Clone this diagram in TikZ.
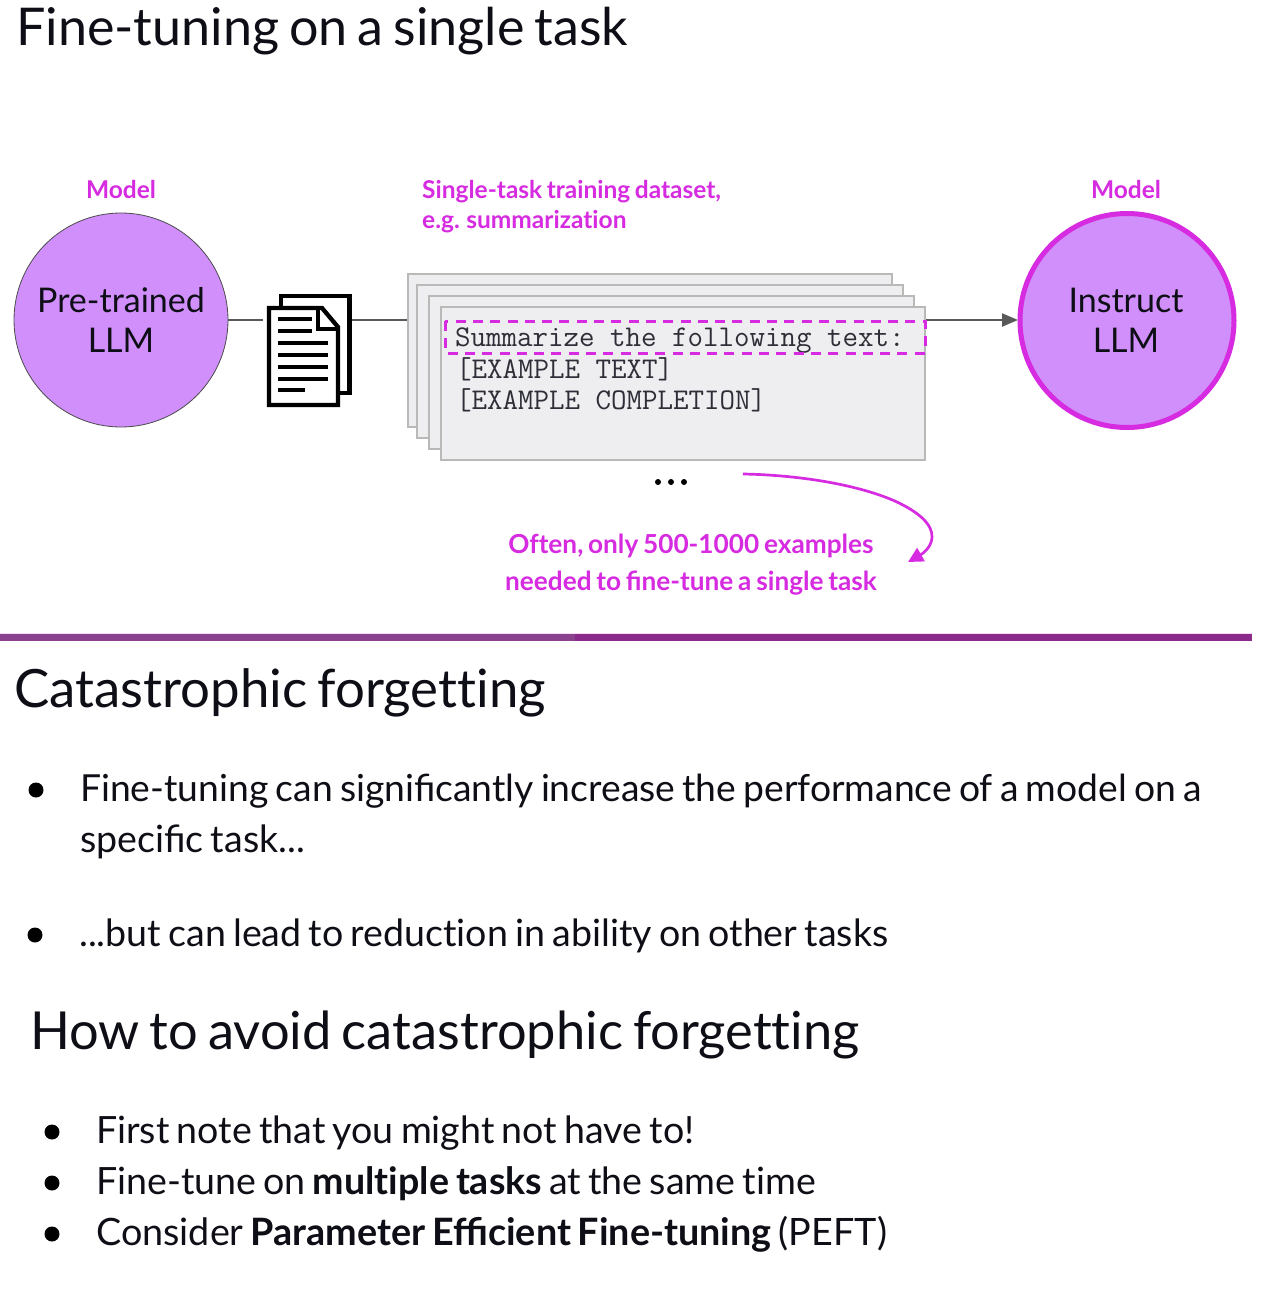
\documentclass[tikz,border=0pt]{standalone}
\usepackage{fontspec}
\setmainfont{Lato}[WordSpace=0.75,Ligatures=NoCommon]
\usetikzlibrary{arrows.meta,shapes.geometric}
\definecolor{mag}{HTML}{D62BE0}
\definecolor{circ}{HTML}{D08FFA}
\definecolor{paper}{HTML}{EEEEF0}
\definecolor{papline}{HTML}{B8BAB8}
\definecolor{conn}{HTML}{595959}
\definecolor{bar}{HTML}{8C2A8C}
\definecolor{barleft}{HTML}{8A428E}
\definecolor{barglow}{HTML}{F8D8F8}
\definecolor{ink}{HTML}{0E0E16}
\definecolor{codeink}{HTML}{2E2E38}
\tikzset{
  x=1pt,y=-1pt,
  lbl/.style={anchor=base west,inner sep=0pt,text=ink},
  ctr/.style={anchor=base,inner sep=0pt,text=ink},
  head/.style={lbl,font=\fontsize{52.05}{52.05}\selectfont},
  headb/.style={lbl,font=\fontsize{52.8}{52.8}\selectfont},
  headc/.style={lbl,font=\fontsize{52.4}{52.4}\selectfont},
  body/.style={lbl,font=\fontsize{37.55}{37.55}\selectfont},
  bodya/.style={lbl,font=\fontsize{37.27}{37.27}\selectfont},
  bodyb/.style={lbl,font=\fontsize{37.72}{37.72}\selectfont},
  note/.style={ctr,text=mag,font=\fontsize{26.2}{26.2}\selectfont\bfseries},
  toplbl/.style={ctr,text=mag,font=\fontsize{24.5}{24.5}\selectfont\bfseries},
  notel/.style={lbl,text=mag,font=\fontsize{24.5}{24.5}\selectfont\bfseries},
  circtext/.style={ctr,font=\fontsize{34}{34}\selectfont},
  llm/.style={circle,fill=circ,inner sep=0pt},
  sheet/.style={fill=paper,draw=papline,line width=1.3pt},
  code/.style={anchor=base west,inner sep=0pt,text=codeink,font=\fontsize{30.1}{30.1}\selectfont\ttfamily\addfontfeature{FakeBold=0.9}},
  conn/.style={draw=conn,line width=2.2pt},
  docline/.style={line width=4pt,draw=black},
  docedge/.style={line width=4.3pt,draw=black,fill=white,line join=miter},
}
\begin{document}
\begin{tikzpicture}
\useasboundingbox (0,0) rectangle (1270,1301);
\fill[white] (0,0) rectangle (1270,1301);
\node[head] (t1) at (16,45) {Fine-tuning on a single task};
\node[toplbl] (m1) at (121,198) {Model};
\node[toplbl] (m2) at (1126,198) {Model};
\node[notel] (ds1) at (422,198) {Single-task training dataset,};
\node[notel] (ds2) at (422,228) {e.g. summarization};
\node[llm,minimum size=214pt,draw=black!70,line width=.8pt] (pre) at (121,320) {};
\node[llm,minimum size=214pt,draw=mag,line width=5pt] (ins) at (1127,320.5) {};
\node[circtext] (a1) at (121,312) {Pre-trained};
\node[circtext] (a2) at (121,352) {LLM};
\node[circtext] (b1) at (1126,312) {Instruct};
\node[circtext] (b2) at (1126,352) {LLM};
\coordinate (docl) at (263,320);
\coordinate (docr) at (352,320);
\coordinate (sheetin) at (408,320);
\coordinate (sheetout) at (925,320);
\draw[conn] (pre.east) -- (docl);
\draw[conn] (docr) -- (sheetin);
\draw[conn,-{Triangle[length=16pt,width=13pt]}] (sheetout) -- (1018,320);
% document icon
\draw[docedge] (281,296) -- (349.5,296) -- (349.5,393) -- (281,393) -- cycle;
\draw[docedge] (269,308) -- (322,308) -- (338,327) -- (338,405) -- (269,405) -- cycle;
\draw[line width=3.6pt,line join=miter] (318,308) -- (318,329) -- (338,329);
\foreach \y/\e in {319/312,331/312,343/328,355/328,367/328,379/328,390/305}{
  \draw[docline] (278,\y) -- (\e,\y);
}
% sheets
\draw[sheet] (408,274) rectangle (892,427);
\draw[sheet] (417,285) rectangle (903,438);
\draw[sheet] (429,296) rectangle (914,449);
\draw[sheet] (441,307) rectangle (925,460);
\node[code] (c1) at (455,346.5) {Summarize the following text:};
\node[code] (c2) at (456,378) {[EXAMPLE TEXT]};
\node[code] (c3) at (456,409) {[EXAMPLE COMPLETION]};
\draw[mag,line width=3pt,dash pattern=on 10pt off 7.3pt] (445,321) rectangle (925,353);
% dots
\foreach \x in {658,671,684}{\fill (\x,482) circle (3pt);}
% curved arrow
\coordinate (ca) at (743,474);
\coordinate (cb) at (908,562);
\draw[mag,line width=2.7pt,-{Triangle[length=15pt,width=15pt]}] (ca) .. controls (800,475) and (860,485) .. (897,502) .. controls (920,513) and (933,525) .. (932,538) .. controls (931,548) and (922,554) .. (cb);
\node[note] (n1) at (691,553.5) {Often, only 500-1000 examples};
\node[note] (n2) at (691,590) {needed to ﬁne-tune a single task};
\fill[barglow] (0,632.5) rectangle (1252,634);
\fill[bar] (575,634) rectangle (1252,641);
\fill[barleft] (0,634) rectangle (575,641);
\node[headb] (t2) at (14,707) {Catastrophic forgetting};
\node[bodya] (l1) at (80,801) {Fine-tuning can signiﬁcantly increase the performance of a model on a};
\node[body] (l2) at (80,852) {speciﬁc task...};
\node[body] (l3) at (79,946) {...but can lead to reduction in ability on other tasks};
\node[headc] (t3) at (30,1049) {How to avoid catastrophic forgetting};
\node[body] (l4) at (96,1143) {First note that you might not have to!};
\node[body] (l5) at (96,1194) {Fine-tune on \textbf{multiple tasks} at the same time};
\node[bodyb] (l6) at (96,1245) {Consider \textbf{Parameter Eﬃcient Fine-tuning} (PEFT)};
\foreach \x/\y in {36/790,35/935,52/1132,52/1183,52/1234}{\fill (\x,\y) circle (7.5pt);}
\end{tikzpicture}
\end{document}
